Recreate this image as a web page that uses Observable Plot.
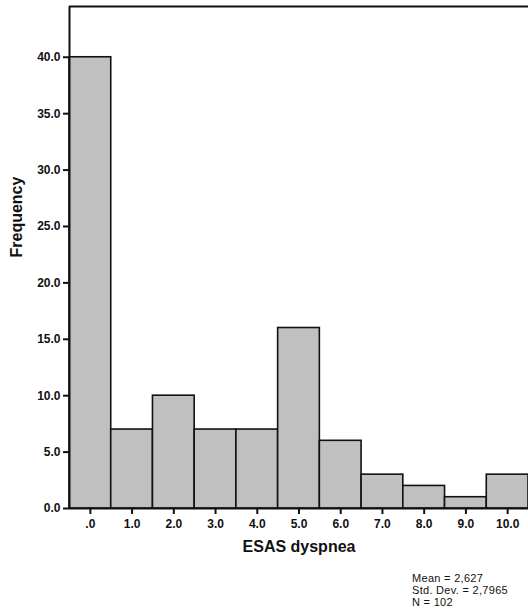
<!DOCTYPE html>
<html>
<head>
<meta charset="utf-8">
<script src="https://cdn.jsdelivr.net/npm/d3@7"></script>
<script src="https://cdn.jsdelivr.net/npm/@observablehq/plot@0.6"></script>
<style>
  html, body { margin: 0; padding: 0; background: #fff; overflow: hidden; }
  #stats { font-family: "Liberation Sans", Arial, sans-serif; font-size: 11px; line-height: 12px; letter-spacing: 0.3px; color: #111; margin-left: 412px; margin-top: 2px; }
</style>
</head>
<body>
<div id="chart"></div>
<div id="stats"></div>
<script>
const scores = [0, 1, 2, 3, 4, 5, 6, 7, 8, 9, 10];
const counts = [40, 7, 10, 7, 7, 16, 6, 3, 2, 1, 3];
const xTickLabels = [".0", "1.0", "2.0", "3.0", "4.0", "5.0", "6.0", "7.0", "8.0", "9.0", "10.0"];
const yTicks = [0, 5, 10, 15, 20, 25, 30, 35, 40];
const yTickLabels = ["0.0", "5.0", "10.0", "15.0", "20.0", "25.0", "30.0", "35.0", "40.0"];
const statsLines = ["Mean = 2,627", "Std. Dev. = 2,7965", "N = 102"];
const xTitle = "ESAS dyspnea";
const yTitle = "Frequency";

const data = scores.map((s, i) => ({score: s, count: counts[i]}));
const yMax = 44.5;

const chart = Plot.plot({
  width: 528,
  height: 570,
  marginLeft: 69,
  marginRight: 0,
  marginTop: 6,
  marginBottom: 62,
  style: {fontFamily: "'Liberation Sans', Arial, sans-serif", background: "#fff", color: "#111"},
  x: {domain: [-0.5, 10.5]},
  y: {domain: [0, yMax]},
  marks: [
    Plot.rectY(data, {x1: d => d.score - 0.5, x2: d => d.score + 0.5, y1: 0, y2: "count", fill: "#c0c0c0", stroke: "#111", strokeWidth: 1.6}),
    Plot.ruleX([-0.5], {stroke: "#111", strokeWidth: 2}),
    Plot.ruleY([0], {stroke: "#111", strokeWidth: 2}),
    Plot.ruleY([yMax], {stroke: "#111", strokeWidth: 2}),
    Plot.axisY({ticks: yTicks, tickFormat: (d) => yTickLabels[yTicks.indexOf(d)], tickSize: 6, tickPadding: 3, strokeWidth: 2, label: null, fontSize: 12, fontWeight: "bold"}),
    Plot.axisX({ticks: scores, tickFormat: (d) => xTickLabels[scores.indexOf(d)], tickSize: 6, tickPadding: 5, strokeWidth: 2, label: null, fontSize: 12, fontWeight: "bold"}),
    Plot.text([yTitle], {frameAnchor: "left", text: d => d, rotate: -90, dx: -53, fontSize: 16, fontWeight: "bold", fill: "#111"}),
    Plot.text([xTitle], {frameAnchor: "bottom", text: d => d, dy: 43, fontSize: 16, fontWeight: "bold", fill: "#111"})
  ]
});
document.getElementById("chart").appendChild(chart);
document.getElementById("stats").innerHTML = statsLines.join("<br>");
</script>
</body>
</html>
